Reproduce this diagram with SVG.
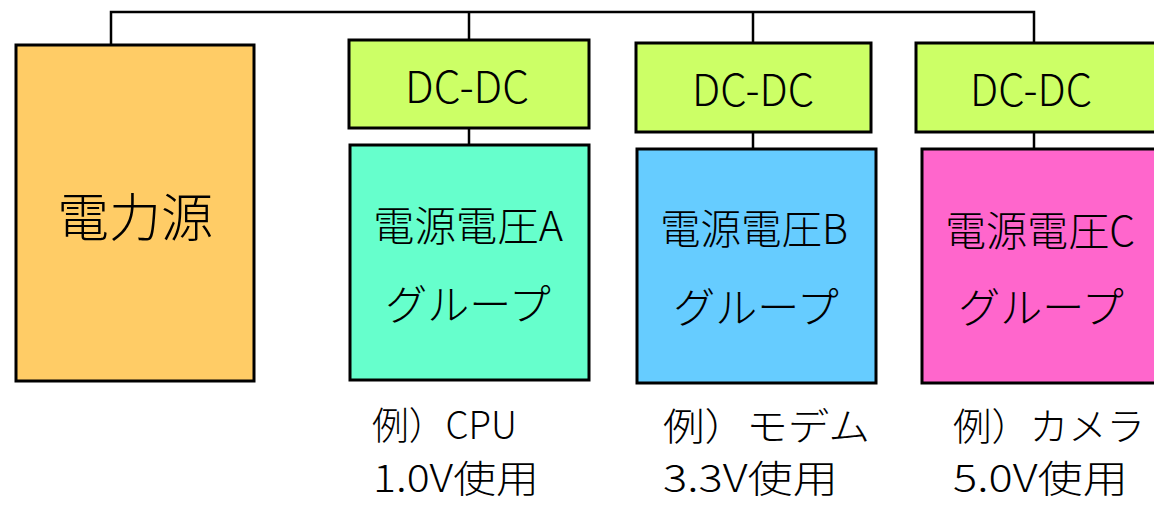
<svg xmlns="http://www.w3.org/2000/svg" width="1154" height="506" viewBox="0 0 1154 506">
<style>
.box{stroke:#000;stroke-width:3}
.t{font-family:"Noto Sans CJK JP","Noto Sans",sans-serif;font-weight:300;fill:#000;text-anchor:middle}
.lbl{font-family:"Noto Sans CJK JP","Noto Sans",sans-serif;font-weight:300;fill:#000;font-size:38px}
.conn{stroke:#000;stroke-width:2.5;fill:none}
</style>
<rect width="1154" height="506" fill="#fff"/>
<g id="connectors">
<path class="conn" d="M111,45 V12 H1034 V43"/>
<path class="conn" d="M469,12 V40"/>
<path class="conn" d="M753,12 V43"/>
<path class="conn" d="M469,128 V145"/>
<path class="conn" d="M753,132 V149"/>
<path class="conn" d="M1034,132 V149"/>
</g>
<g id="power">
<rect class="box" x="16" y="45" width="238" height="336" fill="#FFCC66"/>
<text class="t" x="135" y="237" font-size="52">電力源</text>
</g>
<g id="dcdc-a">
<rect class="box" x="349" y="40" width="240" height="88" fill="#CCFF66"/>
<text class="t" x="467" y="103" font-size="44" textLength="124" lengthAdjust="spacingAndGlyphs">DC-DC</text>
</g>
<g id="dcdc-b">
<rect class="box" x="636" y="43" width="235" height="89" fill="#CCFF66"/>
<text class="t" x="753" y="106" font-size="44" textLength="122" lengthAdjust="spacingAndGlyphs">DC-DC</text>
</g>
<g id="dcdc-c">
<rect class="box" x="916" y="43" width="250" height="89" fill="#CCFF66"/>
<text class="t" x="1031" y="106" font-size="44" textLength="122" lengthAdjust="spacingAndGlyphs">DC-DC</text>
</g>
<g id="group-a">
<rect class="box" x="350" y="145" width="239" height="235" fill="#66FFCC"/>
<text class="t" x="468" y="241" font-size="41" textLength="190" lengthAdjust="spacingAndGlyphs">電源電圧A</text>
<text class="t" x="468" y="320" font-size="42">グループ</text>
</g>
<g id="group-b">
<rect class="box" x="637" y="149" width="239" height="234" fill="#66CCFF"/>
<text class="t" x="754" y="244" font-size="41" textLength="188" lengthAdjust="spacingAndGlyphs">電源電圧B</text>
<text class="t" x="756" y="323" font-size="42">グループ</text>
</g>
<g id="group-c">
<rect class="box" x="922" y="149" width="250" height="234" fill="#FF66CC"/>
<text class="t" x="1040" y="246" font-size="41" textLength="190" lengthAdjust="spacingAndGlyphs">電源電圧C</text>
<text class="t" x="1041" y="323" font-size="42">グループ</text>
</g>
<g id="note-a">
<text class="lbl" x="372" y="439" textLength="145" lengthAdjust="spacingAndGlyphs">例）CPU</text>
<text class="lbl" x="373" y="492" textLength="166" lengthAdjust="spacingAndGlyphs">1.0V使用</text>
</g>
<g id="note-b">
<text class="lbl" x="663" y="440" textLength="207" lengthAdjust="spacingAndGlyphs">例）モデム</text>
<text class="lbl" x="663" y="492" textLength="175" lengthAdjust="spacingAndGlyphs">3.3V使用</text>
</g>
<g id="note-c">
<text class="lbl" x="953" y="440" textLength="192" lengthAdjust="spacingAndGlyphs">例）カメラ</text>
<text class="lbl" x="953" y="492" textLength="175" lengthAdjust="spacingAndGlyphs">5.0V使用</text>
</g>
</svg>
